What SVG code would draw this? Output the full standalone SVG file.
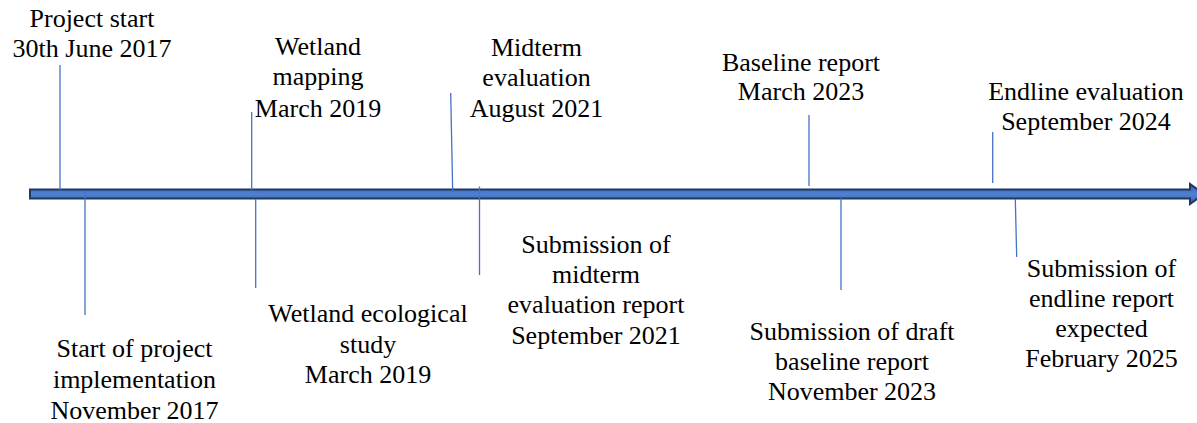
<svg xmlns="http://www.w3.org/2000/svg" width="1197" height="423" viewBox="0 0 1197 423">
<defs>
<linearGradient id="barGrad" x1="0" y1="0" x2="0" y2="1">
<stop offset="0" stop-color="#2f528f"/>
<stop offset="0.25" stop-color="#4472c4"/>
<stop offset="0.5" stop-color="#5080d0"/>
<stop offset="0.75" stop-color="#4472c4"/>
<stop offset="1" stop-color="#2f528f"/>
</linearGradient>
</defs>
<style>
.t{font-family:"Liberation Serif","Times New Roman",serif;font-size:26px;fill:#000;text-anchor:middle}
.c{stroke:#4472c4;stroke-width:1.3;fill:none}
</style>
<rect width="1197" height="423" fill="#fff"/>
<g id="timeline">
<path d="M30,189.5 H1190 V184 L1204,194 L1190,204 V198.5 H30 Z" fill="url(#barGrad)" stroke="#1f3864" stroke-width="2"/>
</g>
<g id="connectors">
<line class="c" x1="60" y1="65" x2="60" y2="190"/>
<line class="c" x1="85" y1="192" x2="85" y2="315"/>
<line class="c" x1="251.7" y1="112" x2="251.7" y2="190"/>
<line class="c" x1="255.7" y1="199" x2="255.7" y2="288"/>
<line class="c" x1="450.7" y1="93" x2="452.7" y2="192"/>
<line class="c" x1="479.5" y1="186.5" x2="479.5" y2="275"/>
<line class="c" x1="809" y1="115" x2="809" y2="186"/>
<line class="c" x1="841" y1="198" x2="841" y2="290"/>
<line class="c" x1="992.7" y1="132" x2="992.7" y2="183"/>
<line class="c" x1="1015.3" y1="199" x2="1016.7" y2="257"/>
</g>
<g id="project-start"><text class="t" x="92" y="27">Project start</text><text class="t" x="92" y="57">30th June 2017</text></g>
<g id="wetland-mapping"><text class="t" x="318" y="55">Wetland</text><text class="t" x="318" y="85">mapping</text><text class="t" x="318" y="117">March 2019</text></g>
<g id="midterm-evaluation"><text class="t" x="536.5" y="56">Midterm</text><text class="t" x="536.5" y="86">evaluation</text><text class="t" x="536.5" y="117">August 2021</text></g>
<g id="baseline-report"><text class="t" x="801" y="71">Baseline report</text><text class="t" x="801" y="100">March 2023</text></g>
<g id="endline-evaluation"><text class="t" x="1086" y="100">Endline evaluation</text><text class="t" x="1086" y="130">September 2024</text></g>
<g id="start-implementation"><text class="t" x="134.5" y="357">Start of project</text><text class="t" x="134.5" y="388">implementation</text><text class="t" x="134.5" y="419">November 2017</text></g>
<g id="wetland-ecological"><text class="t" x="368" y="322">Wetland ecological</text><text class="t" x="368" y="353">study</text><text class="t" x="368" y="383">March 2019</text></g>
<g id="submission-midterm"><text class="t" x="596" y="253">Submission of</text><text class="t" x="596" y="283">midterm</text><text class="t" x="596" y="313">evaluation report</text><text class="t" x="596" y="344">September 2021</text></g>
<g id="submission-draft-baseline"><text class="t" x="852" y="340">Submission of draft</text><text class="t" x="852" y="370">baseline report</text><text class="t" x="852" y="400">November 2023</text></g>
<g id="submission-endline"><text class="t" x="1101.5" y="277">Submission of</text><text class="t" x="1101.5" y="307">endline report</text><text class="t" x="1101.5" y="337">expected</text><text class="t" x="1101.5" y="367">February 2025</text></g>
</svg>
